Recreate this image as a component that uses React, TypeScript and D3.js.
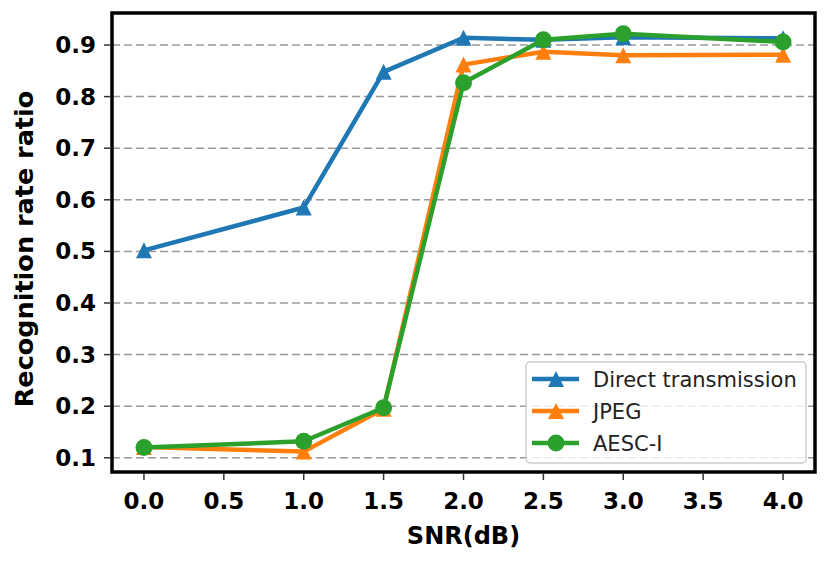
import * as d3 from "d3";

const snr = [0.0, 1.0, 1.5, 2.0, 2.5, 3.0, 4.0];
const directTx = [0.502, 0.585, 0.848, 0.914, 0.91, 0.915, 0.913];
const jpeg = [0.121, 0.112, 0.195, 0.862, 0.887, 0.88, 0.881];
const aescI = [0.12, 0.132, 0.197, 0.827, 0.91, 0.922, 0.906];

const xTicks = [0.0, 0.5, 1.0, 1.5, 2.0, 2.5, 3.0, 3.5, 4.0];
const yTicks = [0.1, 0.2, 0.3, 0.4, 0.5, 0.6, 0.7, 0.8, 0.9];

const series = [
  { name: "Direct transmission", values: directTx, color: "#1f77b4", marker: "tri" },
  { name: "JPEG", values: jpeg, color: "#ff7f0e", marker: "tri" },
  { name: "AESC-I", values: aescI, color: "#2ca02c", marker: "circle" },
];

const W = 830;
const H = 565;
const plot = { left: 112, right: 815, top: 13, bottom: 472 };
const font = "DejaVu Sans";
const MS = 16; // marker size

function Marker({ kind, cx, cy, color }: { kind: string; cx: number; cy: number; color: string }) {
  if (kind === "circle") return <circle cx={cx} cy={cy} r={MS / 2 + 0.5} fill={color} />;
  const h = MS / 2;
  return (
    <path
      transform={`translate(${cx},${cy})`}
      d={`M0,${-h}L${h},${h}L${-h},${h}Z`}
      fill={color}
    />
  );
}

export default function App() {
  const x = d3.scaleLinear().domain([-0.2, 4.2]).range([plot.left, plot.right]);
  const y = d3.scaleLinear().domain([0.0725, 0.962]).range([plot.bottom, plot.top]);
  const line = d3
    .line<number>()
    .x((_, i) => x(snr[i]))
    .y((d) => y(d));

  const lg = { x: 526, y: 362, w: 280, h: 101 };

  return (
    <svg
      width={W}
      height={H}
      style={{ position: "absolute", left: 0, top: 0, background: "#fff" }}
      fontFamily={font}
    >
      <rect width={W} height={H} fill="#fff" />
      {/* grid */}
      {yTicks.map((t) => (
        <line
          key={"g" + t}
          x1={plot.left}
          x2={plot.right}
          y1={y(t)}
          y2={y(t)}
          stroke="#999"
          strokeWidth={1.5}
          strokeDasharray="8,4"
        />
      ))}
      {/* series */}
      {series.map((s) => (
        <g key={s.name}>
          <path d={line(s.values) ?? ""} fill="none" stroke={s.color} strokeWidth={4.5} strokeLinejoin="round" />
          {s.values.map((v, i) => (
            <Marker key={i} kind={s.marker} cx={x(snr[i])} cy={y(v)} color={s.color} />
          ))}
        </g>
      ))}
      {/* frame */}
      <rect
        x={plot.left}
        y={plot.top}
        width={plot.right - plot.left}
        height={plot.bottom - plot.top}
        fill="none"
        stroke="#000"
        strokeWidth={3.5}
      />
      {/* x axis */}
      {xTicks.map((t) => (
        <g key={"x" + t}>
          <line x1={x(t)} x2={x(t)} y1={plot.bottom + 2} y2={plot.bottom + 8} stroke="#333" strokeWidth={1.5} />
          <text x={x(t)} y={509} textAnchor="middle" fontSize={23} fontWeight="bold">
            {t.toFixed(1)}
          </text>
        </g>
      ))}
      {/* y axis */}
      {yTicks.map((t) => (
        <g key={"y" + t}>
          <line x1={plot.left - 8} x2={plot.left - 2} y1={y(t)} y2={y(t)} stroke="#333" strokeWidth={1.5} />
          <text x={96} y={y(t) + 8} textAnchor="end" fontSize={23} fontWeight="bold">
            {t.toFixed(1)}
          </text>
        </g>
      ))}
      <text x={(plot.left + plot.right) / 2} y={544} textAnchor="middle" fontSize={24} fontWeight="bold">
        SNR(dB)
      </text>
      <text
        transform={`translate(33,249) rotate(-90)`}
        textAnchor="middle"
        fontSize={25.5}
        fontWeight="bold"
      >
        Recognition rate ratio
      </text>
      {/* legend */}
      <rect x={lg.x} y={lg.y} width={lg.w} height={lg.h} rx={4} fill="#fff" fillOpacity={0.8} stroke="#ccc" strokeWidth={1.5} />
      {series.map((s, i) => {
        const cy = lg.y + 17 + i * 32;
        return (
          <g key={"l" + s.name}>
            <line x1={lg.x + 6} x2={lg.x + 53} y1={cy} y2={cy} stroke={s.color} strokeWidth={4.5} />
            <Marker kind={s.marker} cx={lg.x + 30} cy={cy} color={s.color} />
            <text x={lg.x + 67} y={cy + 8} fontSize={21} fill="#222">
              {s.name}
            </text>
          </g>
        );
      })}
    </svg>
  );
}
